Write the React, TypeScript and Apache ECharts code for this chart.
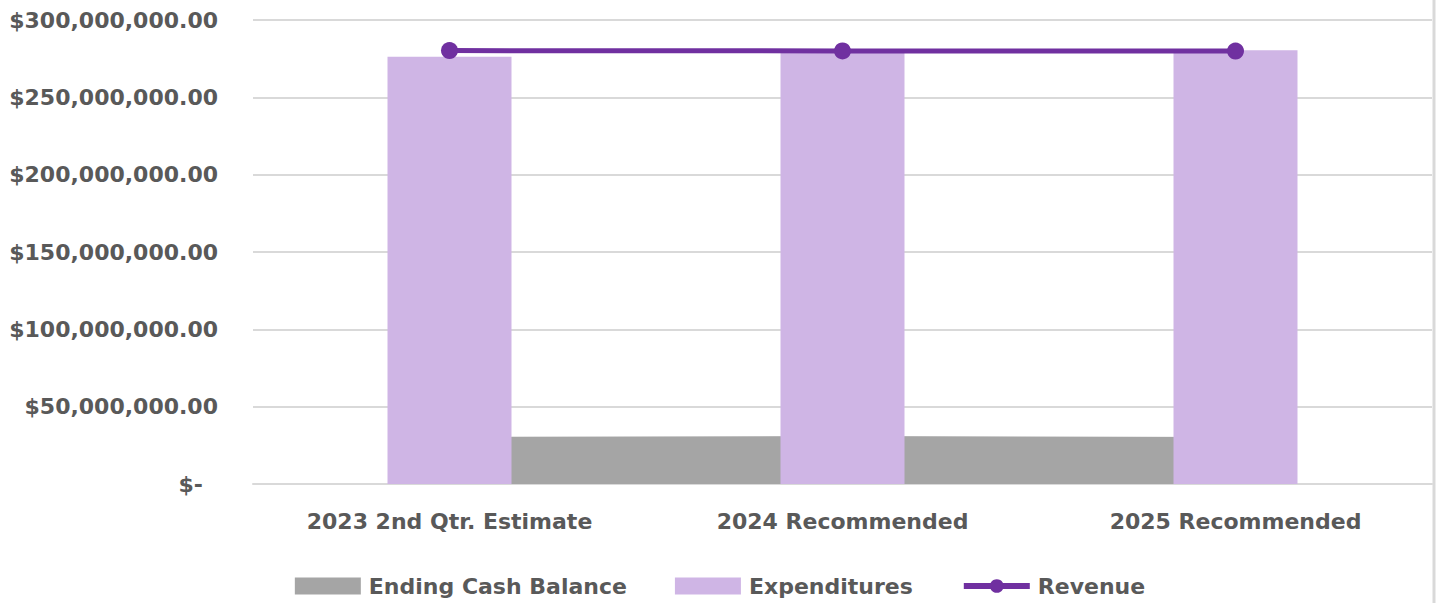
import React, { useEffect, useRef } from "react";
import * as echarts from "echarts";

const categories = ["2023 2nd Qtr. Estimate", "2024 Recommended", "2025 Recommended"];
const endingCashBalance = [30400000, 31000000, 30400000];
const expenditures = [276300000, 279600000, 280400000];
const revenue = [280200000, 280000000, 279900000];

const FONT = "'DejaVu Sans', sans-serif";
const TXT = "#595959";
const FS = 22;

function fmt(v: number): string {
  if (v === 0) return "{z|$-}";
  return "$" + v.toLocaleString("en-US", { minimumFractionDigits: 2, maximumFractionDigits: 2 });
}

export default function App() {
  const ref = useRef<HTMLDivElement>(null);
  useEffect(() => {
    if (!ref.current) return;
    const chart = echarts.init(ref.current, undefined, { renderer: "svg" });
    chart.setOption({
      animation: false,
      backgroundColor: "#ffffff",
      grid: { left: 253, right: 8, top: 20, bottom: 119, containLabel: false },
      legend: {
        bottom: 1,
        left: "center",
        itemWidth: 66,
        itemHeight: 17,
        itemGap: 48,
        textStyle: { color: TXT, fontSize: FS, fontWeight: "bold", fontFamily: FONT, padding: [0, 0, 0, 3] },
        data: [
          { name: "Ending Cash Balance", icon: "rect" },
          { name: "Expenditures", icon: "rect" },
          { name: "Revenue", lineStyle: { width: 6 } },
        ],
      },
      xAxis: {
        type: "category",
        data: categories,
        axisLine: { show: true, lineStyle: { color: "#d9d9d9", width: 2 } },
        axisTick: { show: false },
        axisLabel: { color: TXT, fontSize: FS, fontWeight: "bold", fontFamily: FONT, margin: 26 },
      },
      yAxis: {
        type: "value",
        min: 0,
        max: 300000000,
        interval: 50000000,
        axisLine: { show: false },
        axisTick: { show: false },
        splitLine: { lineStyle: { color: "#d9d9d9", width: 2 } },
        axisLabel: {
          color: TXT,
          fontSize: FS,
          fontWeight: "bold",
          fontFamily: FONT,
          margin: 35,
          formatter: (v: number) => fmt(v),
          rich: { z: { color: TXT, fontSize: FS, fontWeight: "bold", fontFamily: FONT, padding: [0, 15, 0, 0] } },
        },
      },
      series: [
        {
          name: "Ending Cash Balance",
          type: "line",
          data: endingCashBalance,
          symbol: "none",
          lineStyle: { width: 0, color: "#a5a5a5" },
          itemStyle: { color: "#a5a5a5" },
          areaStyle: { color: "#a5a5a5", opacity: 1 },
          z: 1,
        },
        {
          name: "Expenditures",
          type: "bar",
          data: expenditures,
          barWidth: 124,
          itemStyle: { color: "#cfb5e5" },
          z: 2,
        },
        {
          name: "Revenue",
          type: "line",
          data: revenue,
          symbol: "circle",
          symbolSize: 17,
          lineStyle: { width: 5, color: "#7030a0" },
          itemStyle: { color: "#7030a0" },
          z: 3,
        },
      ],
      graphic: [
        {
          type: "line",
          shape: { x1: 1434, y1: 0, x2: 1434, y2: 603 },
          style: { stroke: "#d9d9d9", lineWidth: 3 },
        },
      ],
    });
    return () => chart.dispose();
  }, []);
  return <div ref={ref} style={{ position: "fixed", left: 0, top: 0, width: 1440, height: 603 }} />;
}
